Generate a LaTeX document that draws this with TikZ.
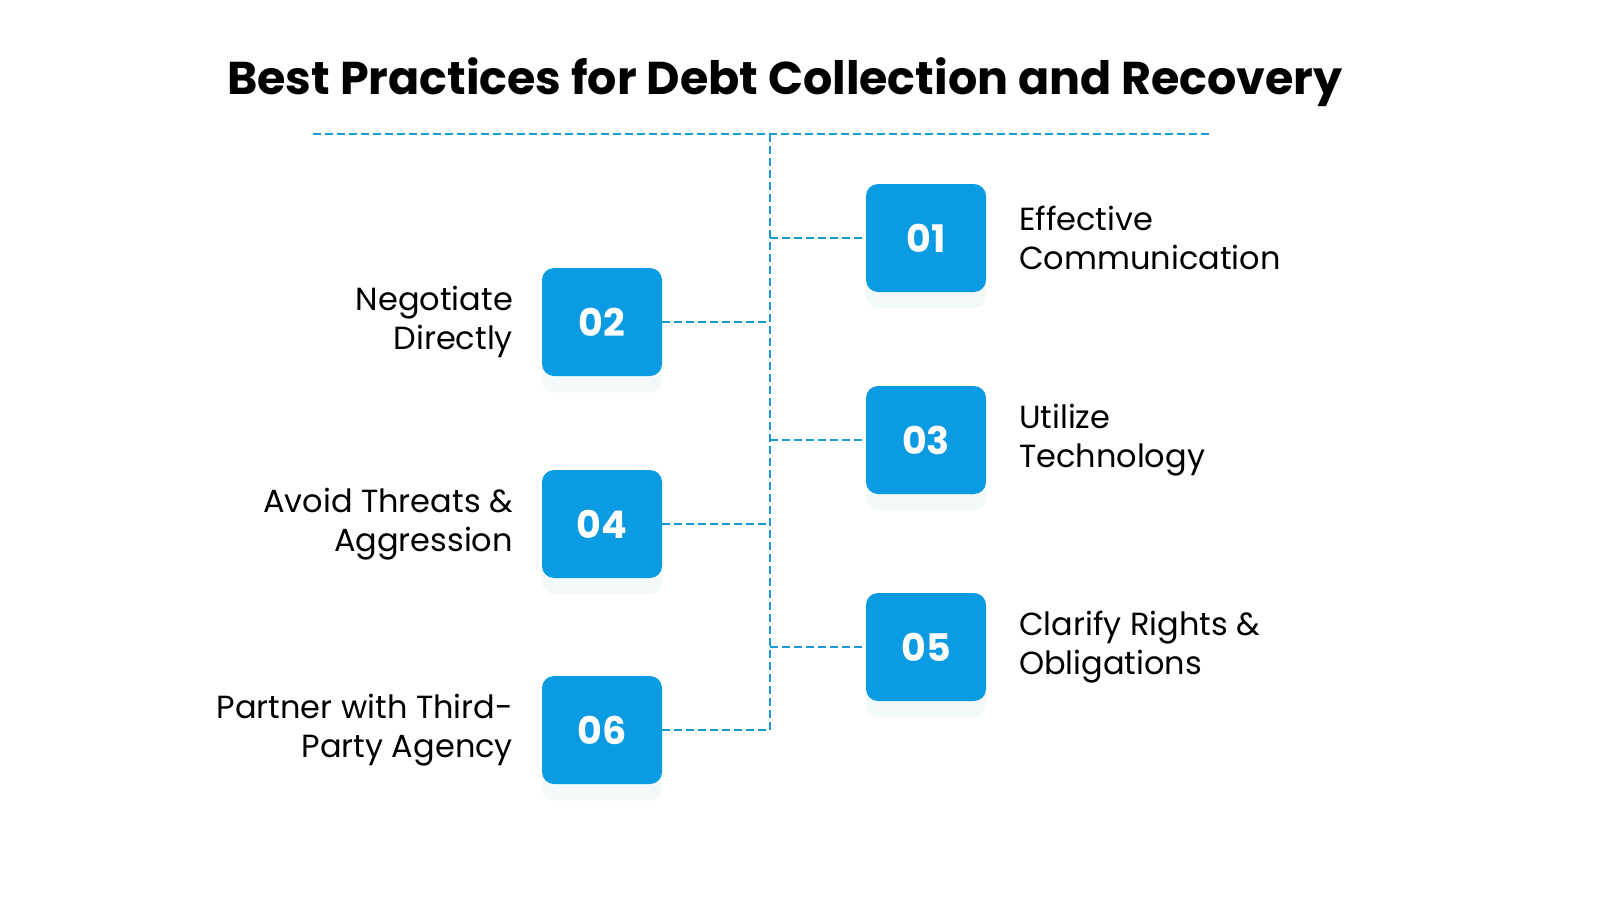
\documentclass[tikz,border=0pt]{standalone}
\usepackage{fontspec}
\setmainfont{Poppins}
\usetikzlibrary{positioning,shadows}
\definecolor{boxblue}{HTML}{0A9BE3}
\definecolor{lineblue}{HTML}{1A9AD6}
\tikzset{
  numbox/.style={fill=boxblue, rounded corners=6pt, minimum width=60pt, minimum height=54pt,
     text=white, font=\fontsize{19}{19}\selectfont\bfseries,
     drop shadow={shadow xshift=0pt, shadow yshift=-8pt, opacity=0.12, fill=teal!40}},
  lbl/.style={font=\fontsize{16}{19.5}\selectfont, align=left, anchor=west},
  lblr/.style={font=\fontsize{16}{19.5}\selectfont, align=right, anchor=east},
  link/.style={lineblue, thick, dashed, dash pattern=on 4pt off 2pt}
}
\begin{document}
\begin{tikzpicture}[x=0.5pt, y=-0.5pt]
 \useasboundingbox (0,0) rectangle (1600,900);

 %title
 \node (title) at (785,82) {\fontsize{23}{23}\selectfont\bfseries Best Practices for Debt Collection and Recovery};
 \coordinate (hl) at (313,134);
 \coordinate (hr) at (1210,134);
 \coordinate (top) at (770,134);
 \coordinate (bot) at (770,730);
 \draw[link] (hl) -- (hr);
 \draw[link] (top) -- (bot);

 %right side
 \foreach \num/\y/\txt in {01/238/{Effective\\Communication}, 03/440/{Utilize\\Technology}, 05/647/{Clarify Rights \&\\Obligations}}{
   \node[numbox] (b\num) at (926,\y) {\num};
   \node[lbl] (t\num) at (1012,\y) {\txt};
   \coordinate (c\num) at (770,\y);
   \draw[link] (c\num) -- (b\num.west);
 }

 %left side
 \foreach \num/\y/\txt in {02/322/{Negotiate\\Directly}, 04/524/{Avoid Threats \&\\Aggression}, 06/730/{Partner with Third-\\Party Agency}}{
   \node[numbox] (b\num) at (602,\y) {\num};
   \node[lblr] (t\num) at (520,\y) {\txt};
   \coordinate (c\num) at (770,\y);
   \draw[link] (b\num.east) -- (c\num);
 }
\end{tikzpicture}
\end{document}
